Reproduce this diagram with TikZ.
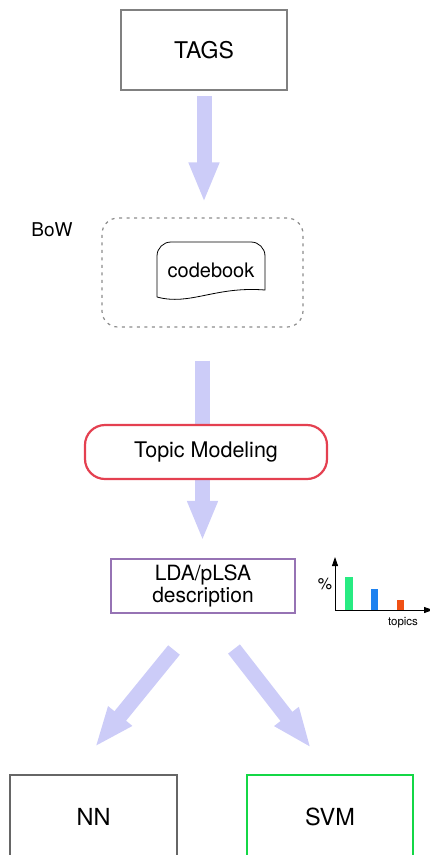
\documentclass[tikz,border=0pt]{standalone}
\usepackage{fontspec}
\setmainfont{TeX Gyre Heros}
\usetikzlibrary{arrows.meta}
\definecolor{flowarrow}{RGB}{204,204,248}
\definecolor{tmred}{RGB}{228,64,80}
\definecolor{ldapurple}{RGB}{150,115,180}
\definecolor{svmgreen}{RGB}{20,215,70}
\definecolor{bargreen}{RGB}{40,235,130}
\definecolor{barblue}{RGB}{30,130,240}
\definecolor{barorange}{RGB}{240,80,20}
\tikzset{
  box/.style={draw, line width=2.2pt, fill=white, inner sep=0pt, align=center,
    font=\fontsize{21}{22}\selectfont},
  bigarrow/.style={draw=flowarrow, line width=15pt,
    -{Triangle[width=28pt,length=40pt]}}
}

\begin{document}
\begin{tikzpicture}[x=1pt,y=-1pt]%

\useasboundingbox (0,0) rectangle (430,855);

%flow arrows (under the boxes)
\coordinate (nnfrom) at (174,650);
\coordinate (nnto) at (95,747);
\coordinate (svmfrom) at (234,649);
\coordinate (svmto) at (311,748);

%boxes
\node[box, draw=black!50, minimum width=166pt, minimum height=80pt,
  font=\fontsize{23}{24}\selectfont] (tags) at (204,50) {TAGS};
\node[draw=black!45, line width=1.2pt, dash pattern=on 3pt off 4.5pt,
  rounded corners=16pt, minimum width=201pt, minimum height=109pt]
  (bow) at (202.5,272.5) {};
\node[font=\fontsize{19}{21}\selectfont] (bowlabel) at (52,230) {BoW};
\node[box, draw=ldapurple, minimum width=184pt, minimum height=54pt]
  (lda) at (203,586) {LDA/pLSA\\description};
\node[box, draw=black!60, line width=2.5pt, minimum width=167pt, minimum height=84pt,
  font=\fontsize{23.5}{25}\selectfont] (nn) at (93.5,817) {NN};
\node[box, draw=svmgreen, line width=2.5pt, minimum width=166pt, minimum height=84pt,
  font=\fontsize{23.5}{25}\selectfont] (svm) at (330,817) {SVM};

%arrows
\draw[bigarrow, shorten <=5pt, shorten >=15pt] (tags.south) -- (tags.south |- bow.north);
\draw[bigarrow, shorten <=33pt, shorten >=17pt] (bow.south) -- (bow.south |- lda.north);
\draw[bigarrow] (nnfrom) -- (nnto);
\draw[bigarrow] (svmfrom) -- (svmto);

%topic modeling drawn over the arrow
\node[box, draw=tmred, rounded corners=20pt, minimum width=242pt, minimum height=54pt,
  font=\fontsize{21.5}{23}\selectfont] (topic) at (206,452) {Topic Modeling};

%codebook document
\node[font=\fontsize{20}{21}\selectfont] (codebook) at (211,270) {codebook};
\draw[line width=0.8pt] (157,297) [rounded corners=14pt] -- (157,242) -- (265,242)
  [sharp corners] -- (265,290) .. controls (215,286) and (190,306) .. (157,297);

%topic histogram
\draw[line width=0.8pt, -{Triangle[width=6pt,length=9pt]}] (335,610) -- (335,557);
\draw[line width=0.8pt, -{Triangle[width=6pt,length=9pt]}] (335,610) -- (433,610);
\fill[bargreen] (345,577) rectangle (353,610);
\fill[barblue] (371,589) rectangle (378,610);
\fill[barorange] (397,600) rectangle (404,610);
\node[font=\fontsize{16}{17}\selectfont] (pct) at (325,584) {\%};
\node[font=\fontsize{11.5}{13}\selectfont] (topics) at (403,623) {topics};

\end{tikzpicture}
\end{document}
